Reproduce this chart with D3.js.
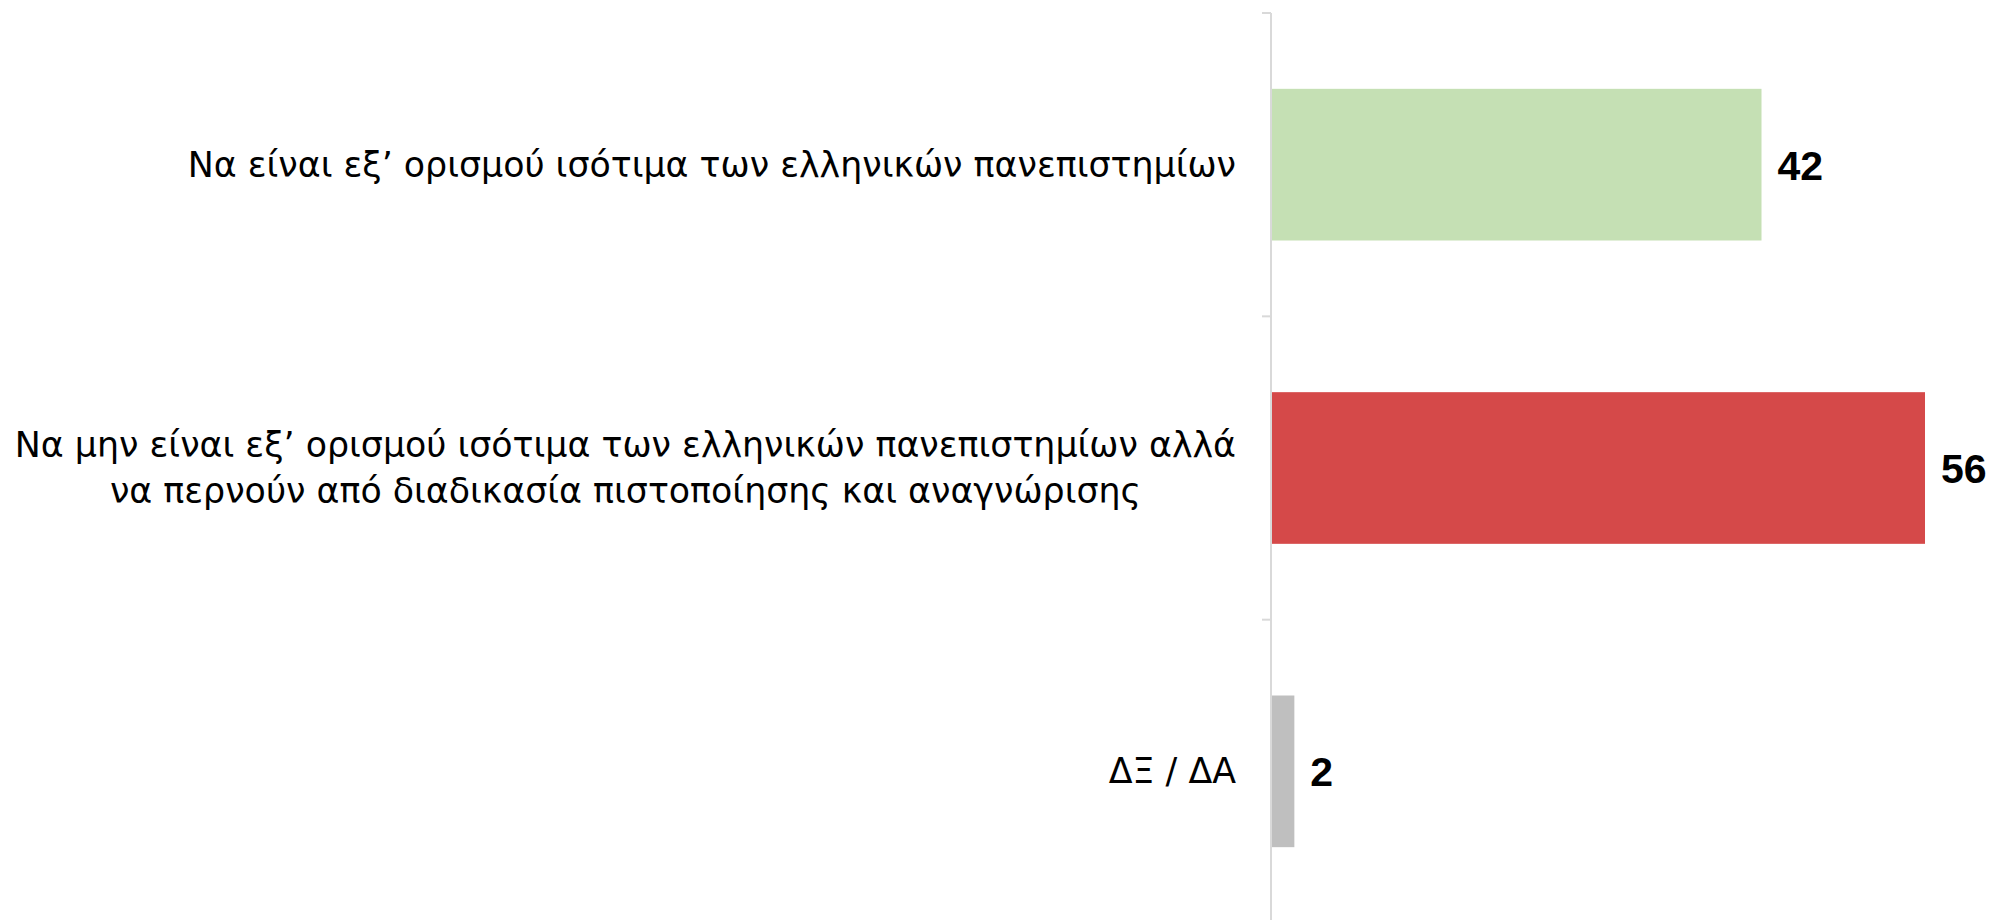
<!DOCTYPE html>
<html>
<head>
<meta charset="utf-8">
<script src="https://cdn.jsdelivr.net/npm/d3@7"></script>
<style>
  html, body { margin: 0; padding: 0; background: #fff; }
  svg { display: block; }
</style>
</head>
<body>
<svg id="chart" width="1995" height="920"></svg>
<script>
const categories = [
  ["Να είναι εξ’ ορισμού ισότιμα των ελληνικών πανεπιστημίων"],
  ["Να μην είναι εξ’ ορισμού ισότιμα των ελληνικών πανεπιστημίων αλλά", "να περνούν από διαδικασία πιστοποίησης και αναγνώρισης"],
  ["ΔΞ / ΔΑ"]
];
const values = [42, 56, 2];
const colors = ["#c5e0b4", "#d54949", "#bfbfbf"];

const W = 1995, H = 920;
const axisX = 1271;
const svg = d3.select("#chart");
const fontFam = "'DejaVu Sans', sans-serif";
const valFont = "'Liberation Sans', Arial, sans-serif";

const x = d3.scaleLinear().domain([0, 56]).range([axisX, 1925]);
const y = d3.scaleBand().domain(d3.range(values.length)).range([13, 923]).paddingInner(0.5).paddingOuter(0.25);

const gAxis = svg.append("g").attr("transform", `translate(${axisX},0)`);
gAxis.append("line").attr("x1", 0).attr("x2", 0).attr("y1", 13).attr("y2", H)
  .attr("stroke", "#d9d9d9").attr("stroke-width", 2);
const step = y.step();
const bounds = d3.range(values.length + 1).map(i => y.range()[0] + i * step);
gAxis.selectAll("line.tick").data(bounds).join("line").attr("class", "tick")
  .attr("x1", -9).attr("x2", 0).attr("y1", d => d).attr("y2", d => d)
  .attr("stroke", "#d9d9d9").attr("stroke-width", 2);

svg.selectAll("rect.bar").data(values).join("rect").attr("class", "bar")
  .attr("x", x(0) + 1)
  .attr("y", (d, i) => y(i))
  .attr("width", d => x(d) - x(0) - 1)
  .attr("height", y.bandwidth())
  .attr("fill", (d, i) => colors[i]);

svg.selectAll("text.val").data(values).join("text").attr("class", "val")
  .attr("x", d => x(d) + 16)
  .attr("y", (d, i) => y(i) + y.bandwidth() / 2 + 15)
  .attr("font-family", valFont)
  .attr("font-weight", "bold")
  .attr("font-size", 41)
  .attr("fill", "#000")
  .text(d => d);

const labelRight = 1236;
const lineH = 46;
categories.forEach((lines, i) => {
  const cy = y(i) + y.bandwidth() / 2;
  const g = svg.append("g");
  const texts = lines.map((ln, j) => g.append("text")
    .attr("y", cy + 12 + (j - (lines.length - 1) / 2) * lineH)
    .attr("font-family", fontFam)
    .attr("font-size", 34.8)
    .attr("fill", "#000")
    .text(ln));
  const widths = texts.map(t => t.node().getComputedTextLength());
  const maxW = d3.max(widths);
  texts.forEach(t => t.attr("text-anchor", "middle").attr("x", labelRight - maxW / 2));
});
</script>
</body>
</html>
